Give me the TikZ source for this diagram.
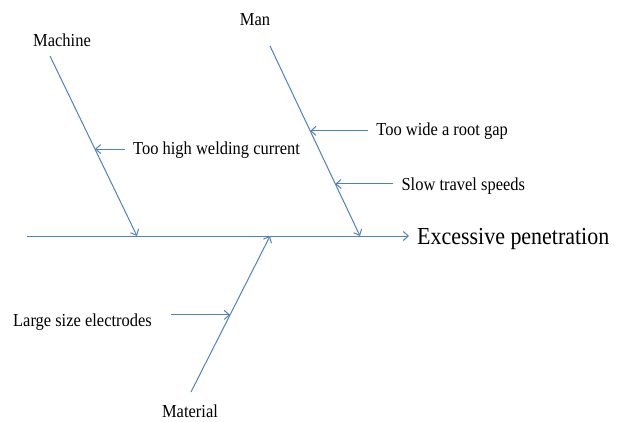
\documentclass[tikz,border=0pt]{standalone}
\usepackage{fontspec}
\setmainfont{Liberation Serif}[FakeStretch=0.9]
\usetikzlibrary{arrows.meta,positioning,calc}
\definecolor{bonecol}{RGB}{79,129,189}
\tikzset{
  bone/.style={draw=bonecol, line width=1pt},
  arr/.style={bone, -{Straight Barb[length=5pt,width=9pt]}},
  cause/.style={font=\fontsize{18.3}{20}\selectfont, inner xsep=8pt, inner ysep=0pt},
  group/.style={font=\fontsize{18.3}{20}\selectfont, inner sep=0pt},
}

\begin{document}
\begin{tikzpicture}[x=1pt,y=-1pt]
\useasboundingbox (0,0) rectangle (622,421);

% head and spine
\coordinate (tail) at (27,236);
\node[cause, font=\fontsize{24.4}{26}\selectfont, anchor=west] (effect) at (409,239) {Excessive penetration};
\draw[arr] (tail) -- (effect.west |- tail);

% main bones
\node[group] (machine) at (62,40) {Machine};
\node[group] (man) at (255,20) {Man};
\node[group] (material) at (190,411) {Material};
\coordinate (machtop) at (50,56);
\coordinate (machend) at (137,236);
\coordinate (mantop) at (270,46);
\coordinate (manend) at (360,236);
\coordinate (matbot) at (191,392);
\coordinate (matend) at (270,236);
\draw[arr] (machtop) -- (machend);
\draw[arr] (mantop) -- (manend);
\draw[arr] (matbot) -- (matend);

% causes
\coordinate (c1) at ($(machtop)!0.517!(machend)$);
\coordinate (c2) at ($(mantop)!0.447!(manend)$);
\coordinate (c3) at ($(mantop)!0.726!(manend)$);
\coordinate (c4) at ($(matbot)!0.494!(matend)$);
\node[cause, right=30pt of c1, yshift=-1pt] (current) {Too high welding current};
\node[cause, right=58pt of c2] (gap) {Too wide a root gap};
\node[cause, right=58pt of c3, yshift=-2pt] (speed) {Slow travel speeds};
\node[cause, inner xsep=19pt, left=59pt of c4, yshift=-7pt] (electrode) {Large size electrodes};
\draw[arr] (current.west |- c1) -- (c1);
\draw[arr] (gap.west) -- (c2);
\draw[arr] (speed.west |- c3) -- (c3);
\draw[arr] (electrode.east |- c4) -- (c4);
\end{tikzpicture}
\end{document}
